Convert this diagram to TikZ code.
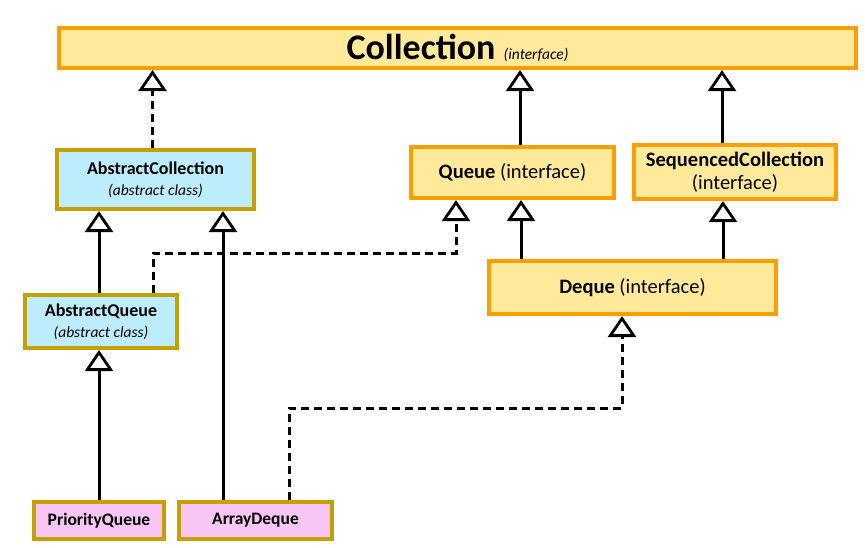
\documentclass[tikz,border=0pt]{standalone}
\usepackage{fontspec}
\setmainfont{Carlito}
\usetikzlibrary{arrows.meta}
\definecolor{ifill}{HTML}{FFEA9C}
\definecolor{iline}{HTML}{FF9E00}
\definecolor{afill}{HTML}{BDEDFD}
\definecolor{aline}{HTML}{C4A000}
\definecolor{cfill}{HTML}{F8C6F5}
\newcommand{\note}[2]{{\fontsize{#1}{#1}\selectfont\itshape #2}}
\begin{document}
\begin{tikzpicture}[x=1pt, y=-1pt,
    box/.style={draw, line width=4pt, inner sep=0pt, align=center,
        font=\fontsize{20.5}{23}\selectfont},
    iface/.style={box, draw=iline, fill=ifill},
    abst/.style={box, draw=aline, fill=afill, font=\fontsize{18}{21}\selectfont},
    cls/.style={box, draw=aline, fill=cfill, font=\fontsize{17.5}{20}\selectfont},
    inh/.style={line width=3pt, -{Triangle[open, width=28pt, length=21pt, line width=2.8pt]}},
    impl/.style={inh, dash pattern=on 8pt off 5pt}]
    \useasboundingbox (0,0) rectangle (865,547);

    \node[iface, minimum width=797pt, minimum height=40pt] (coll) at (457.5,48)
        {\fontsize{36}{36}\selectfont\textbf{Collection} \note{15.5}{(interface)}};
    \node[abst, minimum width=197pt, minimum height=59pt] (acoll) at (155.5,179.5)
        {\textbf{AbstractCollection}\\\note{15.5}{(abstract class)}};
    \node[abst, minimum width=152pt, minimum height=53pt] (aqueue) at (101,321.5)
        {\textbf{AbstractQueue}\\\note{15.5}{(abstract class)}};
    \node[iface, minimum width=203pt, minimum height=51pt] (queue) at (512.5,172.5)
        {\textbf{Queue} (interface)};
    \node[iface, minimum width=202pt, minimum height=54pt] (seqc) at (735,172)
        {\textbf{SequencedCollection}\\(interface)};
    \node[iface, minimum width=287pt, minimum height=53pt] (deque) at (632.5,287.5)
        {\textbf{Deque} (interface)};
    \node[cls, minimum width=130pt, minimum height=37pt] (pq) at (99,520.5)
        {\textbf{PriorityQueue}};
    \node[cls, minimum width=153pt, minimum height=37pt] (ad) at (255.5,520.5)
        {\textbf{ArrayDeque}};

    \draw[impl] ([xshift=-3pt]acoll.north) -- ([xshift=-3pt]acoll.north |- coll.south);
    \draw[inh] ([xshift=7.5pt]queue.north) -- ([xshift=7.5pt]queue.north |- coll.south);
    \draw[inh] ([xshift=-13pt]seqc.north) -- ([xshift=-13pt]seqc.north |- coll.south);
    \draw[inh] ([xshift=-2pt]aqueue.north) -- ([xshift=-2pt]aqueue.north |- acoll.south);
    \draw[inh] (pq.north) -- (pq.north |- aqueue.south);
    \draw[inh] ([xshift=-32.5pt]ad.north) -- ([xshift=-32.5pt]ad.north |- acoll.south);
    \draw[inh] ([xshift=-111.5pt]deque.north) -- ([xshift=-111.5pt]deque.north |- queue.south);
    \draw[inh] ([xshift=90.5pt]deque.north) -- ([xshift=90.5pt]deque.north |- seqc.south);
    \draw[impl] ([xshift=52pt]aqueue.north) -- ++(0,-40) -| ([xshift=-56.5pt]queue.south);
    \draw[impl] ([xshift=33.5pt]ad.north) -- ++(0,-92) -| ([xshift=-10.5pt]deque.south);
\end{tikzpicture}
\end{document}
